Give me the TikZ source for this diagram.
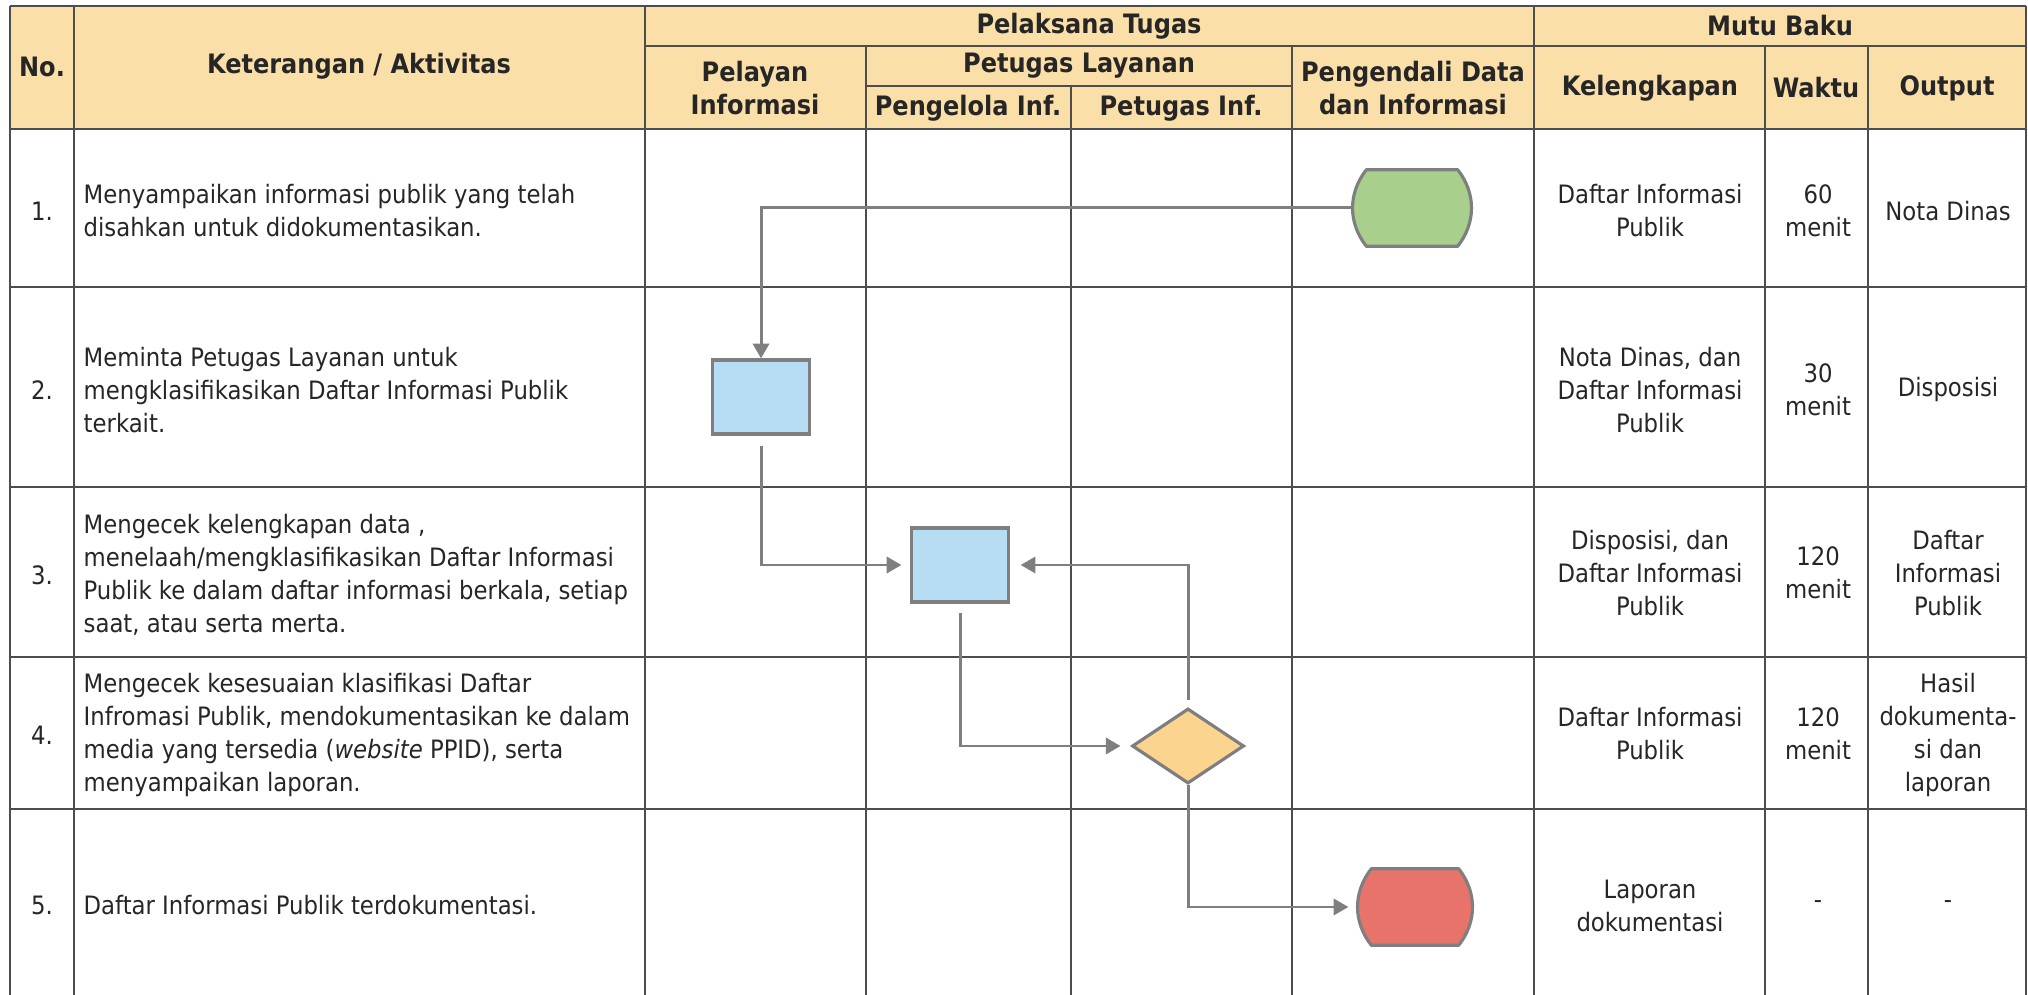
\documentclass[tikz,border=0pt]{standalone}
\usepackage{fontspec}
\setmainfont{DejaVu Sans Condensed}
\usetikzlibrary{arrows.meta, shapes.geometric}
\definecolor{headfill}{HTML}{FBDFA8}
\definecolor{gridline}{HTML}{4D4D4D}
\definecolor{flowgray}{HTML}{7F7F7F}
\definecolor{ink}{HTML}{262626}
\definecolor{startgreen}{HTML}{A8CF8C}
\definecolor{procblue}{HTML}{B7DDF4}
\definecolor{decorange}{HTML}{FBD48F}
\definecolor{endred}{HTML}{E8736B}

\begin{document}
\begin{tikzpicture}[x = 0.01cm, y = -0.01cm]

\tikzset{
tableline/.style = {draw = gridline, line width = 0.6pt},
cell/.style = {text = ink, align = center, inner sep = 0pt, font = \fontsize{7.2}{9.4}\selectfont},
head/.style = {cell, font = \fontsize{7.6}{9.6}\selectfont\bfseries},
activity/.style = {cell, anchor = west, align = left},
terminal/.style = {rectangle, inner sep = 0pt, minimum width = 1.16cm, minimum height = 0.75cm},
barrel/.style = {draw = flowgray, line width = 0.9pt, line join = round},
process/.style = {rectangle, draw = flowgray, line width = 0.9pt, fill = procblue, minimum width = 0.97cm, minimum height = 0.74cm},
decision/.style = {diamond, draw = flowgray, line width = 0.9pt, fill = decorange, minimum width = 1.12cm, minimum height = 0.75cm},
flow/.style = {-{Triangle[length = 4.2pt, width = 4.6pt]}, draw = flowgray, line width = 0.85pt},
	}

\useasboundingbox (0, 0) rectangle (2028, 995);

% Table
\fill [headfill] (10, 6) rectangle (2026, 129);
\foreach \x/\y in {10/6, 74/6, 645/6, 866/46, 1071/86, 1292/46, 1534/6, 1765/46, 1868/46, 2026/6}
  \draw [tableline] (\x, \y) -- (\x, 995);
\foreach \y in {6, 129, 287, 487, 657, 809}
  \draw [tableline] (10, \y) -- (2026, \y);
\draw [tableline] (645, 46) -- (2026, 46);
\draw [tableline] (866, 86) -- (1292, 86);

% Header
\node at (42, 67) [head] (hNo) {No.};
\node at (359, 66) [head] (hKet) {Keterangan / Aktivitas};
\node at (1089, 26) [head] (hPel) {Pelaksana Tugas};
\node at (1780, 26) [head] (hMutu) {Mutu Baku};
\node at (755, 88) [head] (hPelayan) {Pelayan\\Informasi};
\node at (1079, 66) [head] (hPetugas) {Petugas Layanan};
\node at (968, 108) [head] (hPengelola) {Pengelola Inf.};
\node at (1181, 108) [head] (hPetInf) {Petugas Inf.};
\node at (1413, 88) [head] (hPengendali) {Pengendali Data\\dan Informasi};
\node at (1650, 88) [head] (hKel) {Kelengkapan};
\node at (1816, 88) [head] (hWaktu) {Waktu};
\node at (1947, 88) [head] (hOut) {Output};

% Numbers
\foreach \n/\y in {1/211, 2/390, 3/575, 4/735, 5/905}
  \node at (42, \y) [cell] (no\n) {\n.};

% Activities
\node at (83, 211) [activity] (act1) {Menyampaikan informasi publik yang telah\\disahkan untuk didokumentasikan.};
\node at (83, 390) [activity] (act2) {Meminta Petugas Layanan untuk\\mengklasifikasikan Daftar Informasi Publik\\terkait.};
\node at (83, 575) [activity] (act3) {Mengecek kelengkapan data ,\\menelaah/mengklasifikasikan Daftar Informasi\\Publik ke dalam daftar informasi berkala, setiap\\saat, atau serta merta.};
\node at (83, 735) [activity] (act4) {Mengecek kesesuaian klasifikasi Daftar\\Infromasi Publik, mendokumentasikan ke dalam\\media yang tersedia (\textit{website} PPID), serta\\menyampaikan laporan.};
\node at (83, 905) [activity] (act5) {Daftar Informasi Publik terdokumentasi.};

% Mutu Baku
\node at (1650, 211) [cell] (kel1) {Daftar Informasi\\Publik};
\node at (1818, 211) [cell] (wkt1) {60\\menit};
\node at (1948, 211) [cell] (out1) {Nota Dinas};
\node at (1650, 390) [cell] (kel2) {Nota Dinas, dan\\Daftar Informasi\\Publik};
\node at (1818, 390) [cell] (wkt2) {30\\menit};
\node at (1948, 390) [cell] (out2) {Disposisi};
\node at (1650, 573) [cell] (kel3) {Disposisi, dan\\Daftar Informasi\\Publik};
\node at (1818, 573) [cell] (wkt3) {120\\menit};
\node at (1948, 573) [cell] (out3) {Daftar\\Informasi\\Publik};
\node at (1650, 734) [cell] (kel4) {Daftar Informasi\\Publik};
\node at (1818, 734) [cell] (wkt4) {120\\menit};
\node at (1948, 735) [cell] (out4) {Hasil\\dokumenta-\\si dan\\laporan};
\node at (1650, 906) [cell] (kel5) {Laporan\\dokumentasi};
\node at (1818, 905) [cell] (wkt5) {-};
\node at (1948, 905) [cell] (out5) {-};

% Flow
\node at (1412, 208) [terminal] (Mulai) {};
\node at (761, 397) [process] (Proses1) {};
\node at (960, 565) [process] (Proses2) {};
\node at (1188, 746) [decision] (Cek) {};
\node at (1415, 907) [terminal, minimum width = 1.12cm] (Selesai) {};

\foreach \t/\c in {Mulai/startgreen, Selesai/endred}
  \draw [barrel, fill = \c] ([xshift = 0.13cm]\t.north west) -- ([xshift = -0.13cm]\t.north east)
    to [bend left = 38] ([xshift = -0.13cm]\t.south east) -- ([xshift = 0.13cm]\t.south west)
    to [bend left = 38] ([xshift = 0.13cm]\t.north west) -- cycle;

\draw [flow] (Mulai.west) -| (Proses1.north);
\draw [flow, shorten <= 3pt, shorten >= 2.4pt] (Proses1.south) |- (Proses2.west);
\draw [flow, shorten <= 2.6pt, shorten >= 2.8pt] (Proses2.south) |- (Cek.west);
\draw [flow, shorten <= 2pt, shorten >= 3pt] (Cek.north) |- (Proses2.east);
\draw [flow, shorten >= 2.8pt] (Cek.south) |- (Selesai.west);

\end{tikzpicture}
\end{document}
